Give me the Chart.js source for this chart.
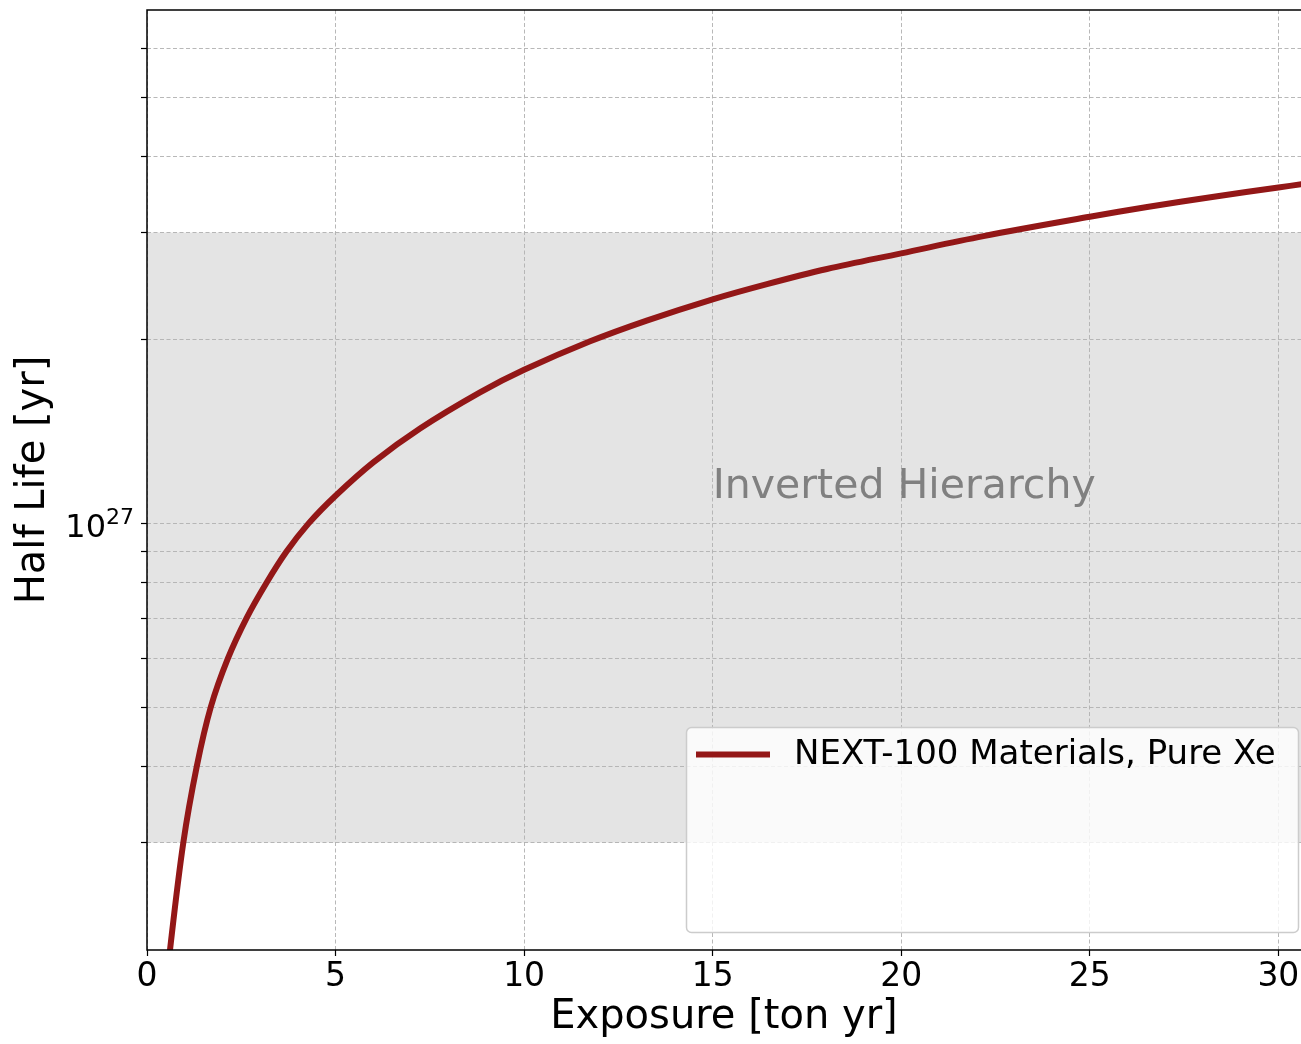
<!DOCTYPE html>
<html>
<head>
<meta charset="utf-8">
<script src="https://cdn.jsdelivr.net/npm/chart.js@4.4.0/dist/chart.umd.min.js"></script>
<style>
    html, body { margin: 0; padding: 0; background: #ffffff; }
    #wrap { width: 1301px; height: 1044px; }
</style>
</head>
<body>
<div id="wrap"><canvas id="chart" width="1301" height="1044"></canvas></div>
<script>
// Sensitivity curve
const exposure = [0.55, 0.61, 0.963, 1.32, 1.69, 2.14, 2.64, 3.17, 3.70, 4.28, 5.0, 6.0, 7.24, 8.83, 10.0,
    11.75, 13.25, 15.0, 16.44, 18.03, 20.0, 22.18, 25.0, 26.52, 28.29, 30.0, 30.61];
const halfLife = [1.8e26, 2.0e26, 3.0e26, 4.0e26, 5.0e26, 6.0e26, 7.0e26, 8.0e26, 9.0e26, 1.0e27, 1.111e27,
    1.26e27, 1.432e27, 1.641e27, 1.787e27, 1.99e27, 2.152e27, 2.332e27, 2.47e27, 2.615e27, 2.774e27,
    2.96e27, 3.184e27, 3.303e27, 3.434e27, 3.557e27, 3.6e27];
const seriesLabel = "NEXT-100 Materials, Pure Xe";

// Ticks
const xTicks = [0, 5, 10, 15, 20, 25, 30];
const yTicks = [3e26, 4e26, 5e26, 6e26, 7e26, 8e26, 9e26, 1e27, 2e27, 3e27, 4e27, 5e27, 6e27];
const yMajorTick = 1e27;
const yMajorLabel = ["10", "27"]; // base, exponent

// Inverted hierarchy band
const ihBand = [3e26, 3e27];
const ihText = "Inverted Hierarchy";
const ihTextAt = [15, 1.1e27];

const FONT = "'DejaVu Sans', sans-serif";
const lineColor = "#931717";

const decorPlugin = {
    id: "decor",
    beforeDraw(chart) {
        const { ctx, chartArea, scales } = chart;
        const yTop = scales.y.getPixelForValue(ihBand[1]);
        const yBot = scales.y.getPixelForValue(ihBand[0]);
        ctx.save();
        ctx.fillStyle = "#e4e4e4";
        ctx.fillRect(chartArea.left, yTop, chartArea.right - chartArea.left, yBot - yTop);
        ctx.restore();
    },
    afterDatasetsDraw(chart) {
        const { ctx, chartArea, scales } = chart;
        ctx.save();

        // 10^27 label with a real superscript
        const ty = scales.y.getPixelForValue(yMajorTick);
        const right = chartArea.left - 13;
        ctx.fillStyle = "#000000";
        ctx.textAlign = "right";
        ctx.textBaseline = "alphabetic";
        ctx.font = "22px " + FONT;
        const expW = ctx.measureText(yMajorLabel[1]).width;
        ctx.fillText(yMajorLabel[1], right, ty + 0.5);
        ctx.font = "32px " + FONT;
        ctx.fillText(yMajorLabel[0], right - expW, ty + 13);

        // band label
        ctx.font = "41px " + FONT;
        ctx.fillStyle = "#808080";
        ctx.textAlign = "left";
        ctx.fillText(ihText, scales.x.getPixelForValue(ihTextAt[0]), scales.y.getPixelForValue(ihTextAt[1]));

        // legend box
        const bx = 686, by = 727, bw = 612, bh = 205, r = 5;
        ctx.beginPath();
        ctx.roundRect(bx + 0.5, by + 0.5, bw, bh, r);
        ctx.fillStyle = "rgba(255,255,255,0.8)";
        ctx.fill();
        ctx.strokeStyle = "#cccccc";
        ctx.lineWidth = 1.5;
        ctx.stroke();

        const ds = chart.data.datasets[0];
        ctx.beginPath();
        ctx.moveTo(696, 754.5);
        ctx.lineTo(770, 754.5);
        ctx.strokeStyle = ds.borderColor;
        ctx.lineWidth = 6;
        ctx.stroke();
        ctx.font = "34px " + FONT;
        ctx.fillStyle = "#000000";
        ctx.textBaseline = "middle";
        ctx.fillText(ds.label, 794, 755);

        // spines: left, bottom, top
        ctx.beginPath();
        ctx.moveTo(chartArea.right, chartArea.top);
        ctx.lineTo(chartArea.left, chartArea.top);
        ctx.lineTo(chartArea.left, chartArea.bottom);
        ctx.lineTo(chartArea.right, chartArea.bottom);
        ctx.strokeStyle = "#000000";
        ctx.lineWidth = 1.5;
        ctx.stroke();
        ctx.restore();
    }
};

const gridStyle = {
    color: "rgba(176,176,176,0.9)",
    lineWidth: 1,
    tickColor: "#000000",
    tickLength: 6,
    tickWidth: 1.2
};

new Chart(document.getElementById("chart"), {
    type: "line",
    data: {
        datasets: [{
            label: seriesLabel,
            data: exposure.map((x, i) => ({ x: x, y: halfLife[i] })),
            borderColor: lineColor,
            borderWidth: 6,
            pointRadius: 0,
            fill: false,
            tension: 0.35,
            clip: 0
        }]
    },
    options: {
        responsive: false,
        animation: false,
        devicePixelRatio: 1,
        layout: { padding: { top: 10, right: 0, left: 0, bottom: 0 } },
        plugins: {
            legend: { display: false },
            tooltip: { enabled: false }
        },
        scales: {
            x: {
                type: "linear",
                min: 0,
                max: 30.6,
                afterBuildTicks: (scale) => { scale.ticks = xTicks.map((v) => ({ value: v })); },
                afterFit: (scale) => {
                    scale.height = 94;
                    scale.paddingLeft = 0;
                    scale.paddingRight = 0;
                },
                ticks: {
                    autoSkip: false,
                    maxRotation: 0,
                    padding: 2,
                    color: "#000000",
                    font: { family: FONT, size: 33 },
                    callback: (v) => String(v)
                },
                grid: gridStyle,
                border: { display: false, dash: [4, 2.5] },
                title: {
                    display: true,
                    text: "Exposure [ton yr]",
                    color: "#000000",
                    font: { family: FONT, size: 40 },
                    padding: { top: 0, bottom: 2 }
                }
            },
            y: {
                type: "logarithmic",
                min: 2.0e26,
                max: 6.95e27,
                afterBuildTicks: (scale) => { scale.ticks = yTicks.map((v) => ({ value: v })); },
                afterFit: (scale) => {
                    scale.width = 147;
                    scale.paddingTop = 0;
                    scale.paddingBottom = 0;
                },
                ticks: {
                    autoSkip: false,
                    padding: 8,
                    color: "#000000",
                    font: { family: FONT, size: 32 },
                    callback: () => ""
                },
                grid: gridStyle,
                border: { display: false, dash: [4, 2.5] },
                title: {
                    display: true,
                    text: "Half Life [yr]",
                    color: "#000000",
                    font: { family: FONT, size: 40 },
                    padding: { top: 10, bottom: 0 }
                }
            }
        }
    },
    plugins: [decorPlugin]
});
</script>
</body>
</html>
